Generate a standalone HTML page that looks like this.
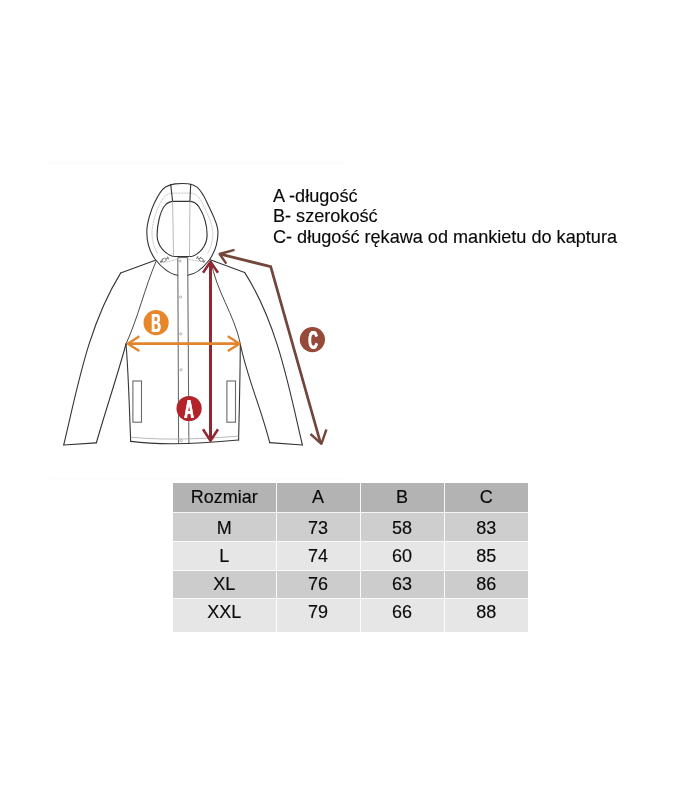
<!DOCTYPE html>
<html lang="pl">
<head>
<meta charset="utf-8">
<title>Tabela rozmiarów</title>
<style>
html,body{margin:0;padding:0;background:#fff;}
body{width:700px;height:800px;position:relative;overflow:hidden;font-family:"Liberation Sans",sans-serif;color:#111;}
.legend{position:absolute;left:272.9px;top:186px;font-size:18.1px;line-height:20.4px;-webkit-text-stroke:0.15px #0a0a0a;white-space:nowrap;color:#0a0a0a;will-change:transform;}
.legend div{height:20.4px;}
table.sz{-webkit-text-stroke:0.15px #0a0a0a;position:absolute;left:173px;top:483px;border-collapse:collapse;font-size:18px;line-height:20px;color:#0a0a0a;table-layout:fixed;width:355px;will-change:transform;}
table.sz td{padding:0;text-align:center;vertical-align:top;border-right:1px solid rgba(255,255,255,0.88);border-bottom:1px solid rgba(255,255,255,0.88);}
table.sz td:last-child{border-right:none;}
table.sz tr:last-child td{border-bottom:none;}
table.sz tr.h td{background:#b3b3b3;height:25px;padding-top:4px;}
table.sz tr.r1 td{background:#cecece;height:23px;padding-top:5px;}
table.sz tr.r2 td{background:#e6e6e6;height:24px;padding-top:4px;}
table.sz tr.r3 td{background:#cccccc;height:24px;padding-top:3px;}
table.sz tr.r4 td{background:#e6e6e6;height:29.5px;padding-top:3px;}
svg{position:absolute;left:0;top:0;}
.ltr{position:absolute;width:40px;text-align:center;font-weight:bold;line-height:30px;height:30px;color:#fff;text-shadow:0.9px 0 0 #fff,-0.9px 0 0 #fff;will-change:transform;}
</style>
</head>
<body>
<svg width="700" height="800" viewBox="0 0 700 800">
<line x1="49" y1="162.8" x2="345" y2="162.8" stroke="#fafafa" stroke-width="1.6"/>
<line x1="49" y1="478.6" x2="345.5" y2="478.6" stroke="#fbfbfb" stroke-width="1.4"/>
<path d="M177.9 275.2 C170 274.5 161 267 155 259 C150 252 146.8 242 146.8 232 C146.8 223 151 210 154.6 202.5 C158 195.5 161 189.8 165.5 187 C168.5 185.2 171.5 184.4 175 183.9 C179 183.4 184 183.3 188 183.7 C191.5 184.1 194.5 185 197 187.2 C201 190.7 204.5 197 207 202.5 C211 211.5 218 223 218 232 C218 242 215 252 209.3 260 C203 268 196 274.5 187.8 275.2" fill="none" stroke="#343434" stroke-width="1.1" stroke-linecap="round" stroke-linejoin="round" />
<path d="M173.4 256.5 C166 254.6 157.1 246.5 157.1 235 C157.1 225 160 212 164.5 206 C167 202.5 170 201.5 174 201.4 L189 201.4 C193 201.4 196.5 203 199 207 C203.5 214 207.1 225 207.1 235 C207.1 246.5 198.5 254.6 191.6 256.5 Z" fill="none" stroke="#343434" stroke-width="1.15" stroke-linecap="round" stroke-linejoin="round" />
<path d="M157.3 253 C153.8 247 152 240 152 233 C152 225 155.5 213 159.5 204.5 C162.5 198 166 193.6 172 193.1 L190 193.1 C196 193.4 199.5 197.5 202.5 203.5 C207 212.5 212.8 225 212.8 233 C212.8 240 211.3 247 207.8 253" fill="none" stroke="#b5b5b5" stroke-width="0.7" stroke-linecap="round" stroke-linejoin="round" stroke-dasharray="1.8 1.3"/>
<path d="M170.7 184.3L172.6 201.4" fill="none" stroke="#343434" stroke-width="1.1" stroke-linecap="round" stroke-linejoin="round" />
<path d="M190.7 184.1L189.9 201.4" fill="none" stroke="#343434" stroke-width="1.1" stroke-linecap="round" stroke-linejoin="round" />
<path d="M172.6 201.6L173.6 256.3" fill="none" stroke="#a8a8a8" stroke-width="0.8" stroke-linecap="round" stroke-linejoin="round" />
<path d="M189.9 201.6L189.5 256.3" fill="none" stroke="#a8a8a8" stroke-width="0.8" stroke-linecap="round" stroke-linejoin="round" />
<path d="M178.6 443.4L177.8 257.6L187.7 257.6L188.9 443.4" fill="none" stroke="#606060" stroke-width="1" stroke-linecap="round" stroke-linejoin="round" />
<path d="M155.4 260.3L120.6 273.1" fill="none" stroke="#343434" stroke-width="1.1" stroke-linecap="round" stroke-linejoin="round" />
<path d="M120.6 273.1 C88.2 325.4 77.8 386.3 63.7 445.0" fill="none" stroke="#343434" stroke-width="1.1" stroke-linecap="round" stroke-linejoin="round" />
<path d="M63.8 445.0L96.0 442.9" fill="none" stroke="#343434" stroke-width="1.1" stroke-linecap="round" stroke-linejoin="round" />
<path d="M96.3 443.0 C105.7 410.1 117.0 377.0 126.0 344.0" fill="none" stroke="#343434" stroke-width="1.1" stroke-linecap="round" stroke-linejoin="round" />
<path d="M156.0 261.5 C144.6 288.3 138.2 317.3 126.0 344.0" fill="none" stroke="#343434" stroke-width="0.9" stroke-linecap="round" stroke-linejoin="round" />
<path d="M126.0 344.0 C128.7 376.3 129.3 409.2 130.7 441.4" fill="none" stroke="#343434" stroke-width="1.1" stroke-linecap="round" stroke-linejoin="round" />
<path d="M210.2 259.8L244.6 272.4" fill="none" stroke="#343434" stroke-width="1.1" stroke-linecap="round" stroke-linejoin="round" />
<path d="M244.6 272.4 C277.5 323.9 288.7 386.5 302.4 445.0" fill="none" stroke="#343434" stroke-width="1.1" stroke-linecap="round" stroke-linejoin="round" />
<path d="M302.4 445.0L269.7 442.6" fill="none" stroke="#343434" stroke-width="1.1" stroke-linecap="round" stroke-linejoin="round" />
<path d="M269.7 442.6 C261.4 409.2 247.2 377.9 240.3 344.0" fill="none" stroke="#343434" stroke-width="1.1" stroke-linecap="round" stroke-linejoin="round" />
<path d="M211.0 261.0 C215.9 290.6 234.3 314.5 240.3 343.5" fill="none" stroke="#343434" stroke-width="0.9" stroke-linecap="round" stroke-linejoin="round" />
<path d="M240.3 343.5 C240.2 375.9 239.3 407.7 238.6 440.0" fill="none" stroke="#343434" stroke-width="1.1" stroke-linecap="round" stroke-linejoin="round" />
<path d="M130.7 441.4 C166.2 445.9 203.0 443.5 238.6 440.0" fill="none" stroke="#343434" stroke-width="1.1" stroke-linecap="round" stroke-linejoin="round" />
<path d="M131.0 437.2 C166.5 440.7 202.8 438.7 238.0 436.2" fill="none" stroke="#a8a8a8" stroke-width="0.8" stroke-linecap="round" stroke-linejoin="round" />
<rect x="132.9" y="381" width="8.6" height="41.2" fill="none" stroke="#6a6a6a" stroke-width="1.1"/>
<rect x="226.9" y="381" width="8.6" height="41.2" fill="none" stroke="#6a6a6a" stroke-width="1.1"/>
<circle cx="180" cy="261" r="1.1" fill="#fff" stroke="#8a8a8a" stroke-width="0.6"/>
<circle cx="180.6" cy="297" r="1.1" fill="#fff" stroke="#8a8a8a" stroke-width="0.6"/>
<circle cx="180.8" cy="333.8" r="1.1" fill="#fff" stroke="#8a8a8a" stroke-width="0.6"/>
<circle cx="181" cy="369.8" r="1.1" fill="#fff" stroke="#8a8a8a" stroke-width="0.6"/>
<circle cx="181.2" cy="440.6" r="1.1" fill="#fff" stroke="#8a8a8a" stroke-width="0.6"/>
<g fill="#fff" stroke="#555" stroke-width="0.7" stroke-linecap="round"><g transform="translate(164.5 259.9) rotate(-28)"><rect x="-2.6" y="-1.5" width="4.2" height="3" rx="0.8"/><path d="M1.6 0H4M4 -1.3V1.3M-2.6 0H-4.2M-4.2 -1V1" fill="none"/></g><g transform="translate(200.7 259.5) rotate(30)"><rect x="-1.6" y="-1.5" width="4.2" height="3" rx="0.8"/><path d="M-1.6 0H-4M-4 -1.3V1.3M2.6 0H4.2M4.2 -1V1" fill="none"/></g></g>
<path d="M166.5 262.5 C170 261 174 260 178 259.6" fill="none" stroke="#b5b5b5" stroke-width="0.7" stroke-linecap="round" stroke-linejoin="round" stroke-dasharray="1.8 1.3"/>
<path d="M189 259.6 C193 260 196 260.5 198.5 261.5" fill="none" stroke="#b5b5b5" stroke-width="0.7" stroke-linecap="round" stroke-linejoin="round" stroke-dasharray="1.8 1.3"/>
<path d="M220.5 254.2L270.7 266.6L320.4 442.5" fill="none" stroke="#72463a" stroke-width="2.75" stroke-linecap="butt" stroke-linejoin="miter"/>
<path d="M234.5 249.8L219.6 254.0L226.3 263.6" fill="none" stroke="#72463a" stroke-width="2.4" stroke-linecap="butt" stroke-linejoin="round"/>
<path d="M310.5 434.0L321.4 443.8L326.4 429.5" fill="none" stroke="#72463a" stroke-width="2.4" stroke-linecap="butt" stroke-linejoin="round"/>
<path d="M210.5 262.5L210.5 440.5" fill="none" stroke="#8f2831" stroke-width="3" stroke-linecap="butt" stroke-linejoin="miter"/>
<path d="M203.0 272.8L210.5 261.8L218.0 272.8" fill="none" stroke="#8f2831" stroke-width="2.5" stroke-linecap="butt" stroke-linejoin="round"/>
<path d="M203.0 429.3L210.5 440.8L218.0 429.3" fill="none" stroke="#8f2831" stroke-width="2.5" stroke-linecap="butt" stroke-linejoin="round"/>
<path d="M128.5 343.7L239.0 343.7" fill="none" stroke="#e3842b" stroke-width="2.7" stroke-linecap="butt" stroke-linejoin="miter"/>
<path d="M139.3 336.3L127.9 343.7L139.3 351.1" fill="none" stroke="#e3842b" stroke-width="2.4" stroke-linecap="butt" stroke-linejoin="round"/>
<path d="M227.8 336.3L239.6 343.7L227.8 351.1" fill="none" stroke="#e3842b" stroke-width="2.4" stroke-linecap="butt" stroke-linejoin="round"/>
<circle cx="189.1" cy="408.5" r="12.6" fill="#b2232a"/>
<circle cx="156.1" cy="322.7" r="12.6" fill="#e8872a"/>
<circle cx="312.4" cy="339.6" r="12.6" fill="#97493a"/>
</svg>
<div class="ltr" style="left:169.1px;top:393.6px;font-size:25.5px;transform:scaleX(0.52)">A</div>
<div class="ltr" style="left:136.2px;top:308px;font-size:25.5px;transform:scaleX(0.52)">B</div>
<div class="ltr" style="left:292.6px;top:324.5px;font-size:25.5px;transform:scaleX(0.52)">C</div>
<div class="legend">
<div>A -długość</div>
<div>B- szerokość</div>
<div>C- długość rękawa od mankietu do kaptura</div>
</div>
<table class="sz">
<colgroup><col style="width:103px"><col style="width:84px"><col style="width:84px"><col style="width:84px"></colgroup>
<tr class="h"><td>Rozmiar</td><td>A</td><td>B</td><td>C</td></tr>
<tr class="r1"><td>M</td><td>73</td><td>58</td><td>83</td></tr>
<tr class="r2"><td>L</td><td>74</td><td>60</td><td>85</td></tr>
<tr class="r3"><td>XL</td><td>76</td><td>63</td><td>86</td></tr>
<tr class="r4"><td>XXL</td><td>79</td><td>66</td><td>88</td></tr>
</table>
</body>
</html>
